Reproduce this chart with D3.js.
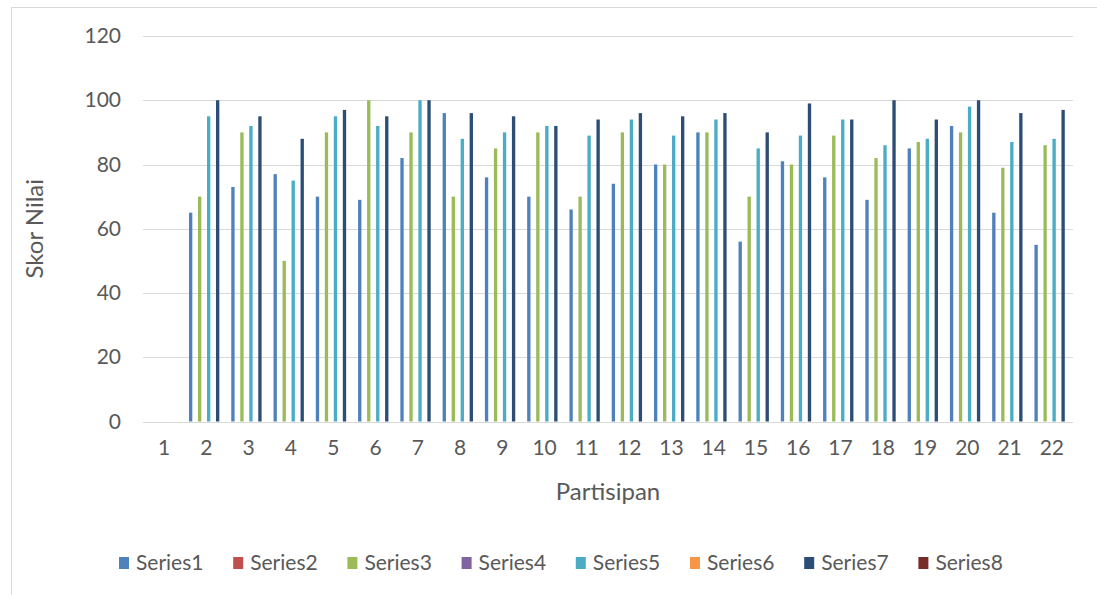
<!DOCTYPE html>
<html>
<head>
<meta charset="utf-8">
<script src="https://cdn.jsdelivr.net/npm/d3@7"></script>
<style>
  html, body { margin: 0; padding: 0; background: #fff; }
  svg { display: block; }
  text { font-family: Lato, "Open Sans", sans-serif; fill: #595959; }
</style>
</head>
<body>
<svg id="chart" width="1097" height="595"></svg>
<script>
const categories = ["1","2","3","4","5","6","7","8","9","10","11","12","13","14","15","16","17","18","19","20","21","22"];
const seriesNames = ["Series1","Series2","Series3","Series4","Series5","Series6","Series7","Series8"];
const seriesColors = ["#4F81BD","#C0504D","#9BBB59","#8064A2","#4BACC6","#F79646","#2C4D75","#772C2A"];
const series1 = [null,65,73,77,70,69,82,96,76,70,66,74,80,90,56,81,76,69,85,92,65,55];
const series2 = [null,null,null,null,null,null,null,null,null,null,null,null,null,null,null,null,null,null,null,null,null,null];
const series3 = [null,70,90,50,90,100,90,70,85,90,70,90,80,90,70,80,89,82,87,90,79,86];
const series4 = [null,null,null,null,null,null,null,null,null,null,null,null,null,null,null,null,null,null,null,null,null,null];
const series5 = [null,95,92,75,95,92,100,88,90,92,89,94,89,94,85,89,94,86,88,98,87,88];
const series6 = [null,null,null,null,null,null,null,null,null,null,null,null,null,null,null,null,null,null,null,null,null,null];
const series7 = [null,100,95,88,97,95,100,96,95,92,94,96,95,96,90,99,94,100,94,100,96,97];
const series8 = [null,null,null,null,null,null,null,null,null,null,null,null,null,null,null,null,null,null,null,null,null,null];
const yTicks = [0,20,40,60,80,100,120];

const allSeries = [series1,series2,series3,series4,series5,series6,series7,series8];

const svg = d3.select("#chart");
const plot = {left: 143, right: 1073, top: 36, bottom: 421.5};
const FONT = "Lato, 'Open Sans', sans-serif";

// chart area border
svg.append("rect").attr("x", 11.5).attr("y", 7.5).attr("width", 1200).attr("height", 700)
  .attr("fill", "none").attr("stroke", "#d9d9d9").attr("stroke-width", 1);

const x = d3.scaleBand().domain(categories).range([plot.left, plot.right]).paddingInner(0.148).paddingOuter(0.074);
const xs = d3.scaleBand().domain(seriesNames).range([0, x.bandwidth()]).padding(0);
const y = d3.scaleLinear().domain([0,120]).range([plot.bottom, plot.top]);

// gridlines
svg.append("g").selectAll("line").data(yTicks).join("line")
  .attr("x1", plot.left).attr("x2", plot.right)
  .attr("y1", d => Math.round(y(d)) + 0.5).attr("y2", d => Math.round(y(d)) + 0.5)
  .attr("stroke", "#d9d9d9").attr("stroke-width", 1);

// y axis
const yAxis = d3.axisLeft(y).tickValues(yTicks).tickSize(0).tickPadding(0);
const gy = svg.append("g").attr("transform", `translate(${plot.left - 22},0)`).call(yAxis);
gy.select(".domain").remove();
gy.selectAll("text").attr("font-size", 21).attr("fill", "#595959").style("font-family", FONT);

// x axis
const xAxis = d3.axisBottom(x).tickSize(0).tickPadding(0);
const gx = svg.append("g").attr("transform", `translate(0,${plot.bottom + 19})`).call(xAxis);
gx.select(".domain").remove();
gx.selectAll("text").attr("font-size", 21).attr("fill", "#595959").style("font-family", FONT);

// bars
const barW = xs.bandwidth() * 0.74;
allSeries.forEach((vals, si) => {
  svg.append("g").selectAll("rect")
    .data(vals.map((v, i) => ({cat: categories[i], v})).filter(d => d.v != null))
    .join("rect")
    .attr("x", d => x(d.cat) + xs(seriesNames[si]) + (xs.bandwidth() - barW) / 2)
    .attr("width", barW)
    .attr("y", d => y(d.v))
    .attr("height", d => y(0) - y(d.v))
    .attr("fill", seriesColors[si]);
});

// axis titles
svg.append("text").attr("transform", `translate(43,${(plot.top + plot.bottom) / 2}) rotate(-90)`)
  .attr("text-anchor", "middle").attr("font-size", 24).text("Skor Nilai");
svg.append("text").attr("x", (plot.left + plot.right) / 2).attr("y", 500)
  .attr("text-anchor", "middle").attr("font-size", 24).text("Partisipan");

// legend
const legend = svg.append("g").attr("transform", "translate(119,557)");
const lg = legend.selectAll("g").data(seriesNames).join("g")
  .attr("transform", (d, i) => `translate(${i * 114.2},0)`);
lg.append("rect").attr("width", 10).attr("height", 12).attr("fill", (d, i) => seriesColors[i]);
lg.append("text").attr("x", 17).attr("y", 13).attr("font-size", 21).text(d => d);
</script>
</body>
</html>
